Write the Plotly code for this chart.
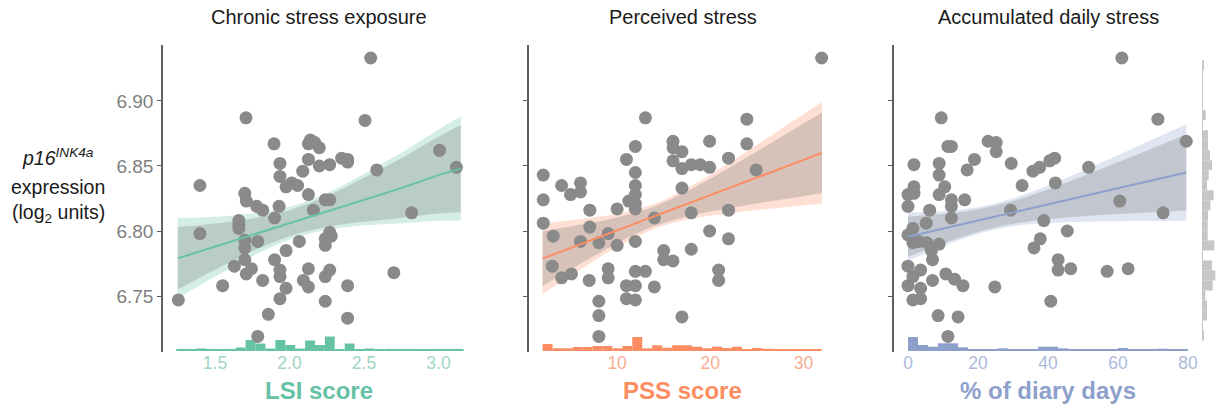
import numpy as np
import plotly.graph_objects as go

W, H = 1220, 410
FONT = "Liberation Sans, Arial, Helvetica, sans-serif"

# ---------------- data ----------------
titles = ["Chronic stress exposure", "Perceived stress", "Accumulated daily stress"]
x_titles = ["LSI score", "PSS score", "% of diary days"]
colors = ["#66c2a5", "#fc8d62", "#8da0cb"]
tick_colors = ["#9fd6c2", "#f8ae93", "#adbadb"]

y_ticks = [6.75, 6.80, 6.85, 6.90]
y_tick_labels = ["6.75", "6.80", "6.85", "6.90"]

lsi_ticks = [1.5, 2.0, 2.5, 3.0]
lsi_tick_labels = ["1.5", "2.0", "2.5", "3.0"]
pss_ticks = [10, 20, 30]
pss_tick_labels = ["10", "20", "30"]
diary_ticks = [0, 20, 40, 60, 80]
diary_tick_labels = ["0", "20", "40", "60", "80"]

# Panel 1: LSI score vs p16 expression
lsi_x = [1.254, 1.399, 1.399, 1.551, 1.63, 1.708, 1.70, 1.71, 1.66, 1.66, 1.66, 1.70, 1.70, 1.70,
         1.71, 1.745, 1.78, 1.82, 1.787, 1.82, 1.858, 1.787, 1.896, 1.936, 1.936, 1.90, 1.93, 1.90,
         1.936, 1.936, 1.936, 1.977, 1.977, 1.977, 2.015, 2.055, 2.066, 2.089, 2.093, 2.127, 2.127,
         2.127, 2.127, 2.127, 2.14, 2.17, 2.20, 2.20, 2.16, 2.24, 2.27, 2.27, 2.24, 2.24, 2.27, 2.28,
         2.24, 2.27, 2.24, 2.35, 2.39, 2.39, 2.39, 2.39, 2.507, 2.545, 2.586, 2.70, 2.82, 3.007, 3.12]
lsi_y = [6.747, 6.835, 6.798, 6.758, 6.773, 6.887, 6.829, 6.823, 6.808, 6.805, 6.802, 6.793, 6.787, 6.778,
         6.767, 6.771, 6.819, 6.816, 6.792, 6.762, 6.736, 6.719, 6.867, 6.852, 6.842, 6.810, 6.819, 6.778,
         6.770, 6.765, 6.748, 6.756, 6.785, 6.834, 6.837, 6.835, 6.792, 6.846, 6.762, 6.867, 6.855,
         6.828, 6.771, 6.757, 6.870, 6.868, 6.864, 6.850, 6.816, 6.824, 6.824, 6.851, 6.794, 6.789, 6.799, 6.796,
         6.765, 6.770, 6.746, 6.856, 6.855, 6.853, 6.758, 6.733, 6.885, 6.933, 6.847, 6.768, 6.814, 6.862, 6.849]

# Panel 2: PSS score
pss_x = [2.07, 2.07, 2.07, 3.14, 3.04, 4.04, 4.04, 5.0, 5.1, 6.07, 6.07, 6.07, 7.07, 7.07, 7.0, 8.04,
         8.04, 8.04, 8.04, 9.04, 9.04, 9.04, 10.0, 10.0, 11.0, 11.0, 11.0, 11.25, 11.96, 11.96, 11.96,
         11.96, 11.96, 11.96, 11.96, 11.96, 11.96, 11.96, 13.04, 13.04, 14.0, 14.0, 15.0, 15.0, 16.0,
         16.0, 16.0, 16.0, 16.96, 16.96, 16.96, 16.96, 17.96, 17.96, 17.96, 18.93, 19.93, 19.93, 19.93,
         20.9, 20.9, 21.96, 21.96, 21.96, 23.93, 23.93, 24.93, 31.96]
pss_y = [6.843, 6.824, 6.806, 6.796, 6.773, 6.835, 6.764, 6.828, 6.767, 6.837, 6.830, 6.792, 6.816, 6.803, 6.762, 6.791,
         6.746, 6.735, 6.719, 6.798, 6.771, 6.764, 6.817, 6.789, 6.855, 6.758, 6.748, 6.823, 6.865, 6.845, 6.835,
         6.828, 6.821, 6.817, 6.792, 6.769, 6.758, 6.747, 6.887, 6.769, 6.810, 6.757, 6.785, 6.778, 6.869,
         6.864, 6.854, 6.777, 6.861, 6.848, 6.833, 6.734, 6.851, 6.814, 6.786, 6.851, 6.869, 6.849, 6.800,
         6.770, 6.762, 6.856, 6.816, 6.794, 6.886, 6.867, 6.847, 6.933]

# Panel 3: % of diary days
diary_x = [0, 0, 0, 0, 0, 1.4, 1.4, 1.4, 1.4, 1.7, 1.7, 1.7, 3.1, 3.6, 3.6, 3.6, 5.2, 5.4, 6.2, 6.7,
           7.0, 7.0, 8.6, 8.9, 8.9, 8.9, 8.9, 9.5, 10.5, 10.8, 11.4, 12.4, 12.4, 12.4, 12.4, 11.4, 13.3,
           14.3, 15.7, 16.2, 16.9, 19.0, 22.9, 25.2, 25.2, 24.8, 29.5, 29.3, 32.6, 35.7, 37.6, 36.0, 37.8,
           38.8, 40.5, 41.9, 40.8, 42.1, 42.9, 42.9, 45.5, 46.5, 51.6, 56.9, 60.5, 61.1, 62.9, 71.4, 72.9, 79.5]
diary_y = [6.819, 6.828, 6.797, 6.773, 6.758, 6.802, 6.791, 6.765, 6.747, 6.851, 6.834, 6.829, 6.792, 6.770, 6.756, 6.748, 6.806, 6.791, 6.816, 6.785,
           6.778, 6.762, 6.735, 6.852, 6.843, 6.828, 6.790, 6.887, 6.834, 6.767, 6.865, 6.865, 6.824, 6.819, 6.810, 6.719, 6.763,
           6.734, 6.758, 6.824, 6.847, 6.855, 6.869, 6.868, 6.861, 6.757, 6.852, 6.816, 6.835, 6.846, 6.849, 6.787, 6.794,
           6.808, 6.854, 6.856, 6.746, 6.837, 6.778, 6.770, 6.800, 6.771, 6.849, 6.769, 6.823, 6.933, 6.771, 6.886, 6.814, 6.869]

# Fitted lines with two confidence bands (half-widths)
lsi_fit_x = [1.25, 1.5, 1.75, 2.0, 2.25, 2.5, 2.75, 3.0, 3.15]
lsi_fit_y = [6.779, 6.788, 6.797, 6.806, 6.815, 6.824, 6.833, 6.843, 6.848]
lsi_outer = [0.031, 0.023, 0.0165, 0.0127, 0.0141, 0.0198, 0.0271, 0.0351, 0.0401]
lsi_inner = [0.024, 0.0178, 0.0126, 0.0100, 0.0119, 0.0169, 0.0229, 0.0295, 0.0335]

pss_fit_x = [2, 6, 10, 14, 18, 22, 26, 30, 32]
pss_fit_y = [6.7788, 6.7897, 6.8005, 6.8113, 6.8222, 6.8330, 6.8438, 6.8547, 6.8601]
pss_outer = [0.0271, 0.0194, 0.0128, 0.0095, 0.0126, 0.0193, 0.0270, 0.0350, 0.0391]
pss_inner = [0.0211, 0.0151, 0.0099, 0.0075, 0.0102, 0.0155, 0.0215, 0.0279, 0.0311]

diary_fit_x = [0, 10, 20, 30, 40, 50, 60, 70, 79.5]
diary_fit_y = [6.7956, 6.8018, 6.8080, 6.8143, 6.8205, 6.8267, 6.8329, 6.8391, 6.8450]
diary_outer = [0.0185, 0.0135, 0.0103, 0.0107, 0.0144, 0.0196, 0.0253, 0.0314, 0.0371]
diary_inner = [0.0154, 0.0114, 0.0088, 0.0088, 0.0114, 0.0154, 0.0199, 0.0246, 0.0292]

# Marginal histograms (relative heights)
lsi_hist_start, lsi_hist_bin = 1.24, 0.0665
lsi_hist = [2, 2, 2.5, 2, 2, 2, 3.5, 11, 7.5, 2.5, 11, 6, 2.5, 10.5, 6, 14.5, 2, 7.5, 2, 2.5, 2, 2,
            2, 2, 2, 2, 2, 2, 2]
pss_hist_start, pss_hist_bin = 2.0, 1.07
pss_hist = [7, 2.7, 2.7, 4, 4, 5, 5, 2.7, 5, 14, 2.7, 5.7, 3.3, 5.7, 5.7, 4.3, 2.7, 4.3, 3, 4.3,
            2, 3, 2.2, 1.5, 1.5, 1.5, 1.5, 2]
diary_hist_start, diary_hist_bin = 0.0, 2.857
diary_hist = [14, 6, 4.3, 7.7, 7.7, 3.7, 2, 1.5, 1.8, 2.7, 2, 1.5, 1.5, 4.3, 4.3, 2.7, 2, 1.5, 2,
              1.5, 2, 3, 1.5, 1.5, 1.5, 2.3, 2, 1.5]
p16_hist_start, p16_hist_bin = 6.7158, 0.0077
p16_hist = [1.7, 0.7, 5, 5, 3.3, 10.7, 13.3, 10, 0.7, 12.3, 5.7, 5.7, 6, 8.3, 11.7, 5, 6.7, 10, 8,
            6, 6, 0.7, 3.7, 0.7, 0.7, 0.7, 0.7, 1.7]

# ---------------- layout geometry ----------------
PANEL_PX = [(163, 475), (529, 836), (894, 1202)]
MARG_PX = (1202, 1218)
TOP_PX, BOT_PX = 45, 352
X_RANGES = [(1.151, 3.245), (0.54, 33.5), (-4.0, 84.0)]
Y_RANGE = (6.707, 6.943)
ydom = [1 - BOT_PX / H, 1 - TOP_PX / H]
px_per_unit_y = (BOT_PX - TOP_PX) / (Y_RANGE[1] - Y_RANGE[0])
hist_unit = 1.0 / px_per_unit_y
hist_base = Y_RANGE[0] + 1.0 * hist_unit

panels = [
    dict(x=lsi_x, y=lsi_y, fx=lsi_fit_x, fy=lsi_fit_y, fo=lsi_outer, fi=lsi_inner,
         hs=lsi_hist_start, hb=lsi_hist_bin, h=lsi_hist,
         ticks=lsi_ticks, tlabels=lsi_tick_labels),
    dict(x=pss_x, y=pss_y, fx=pss_fit_x, fy=pss_fit_y, fo=pss_outer, fi=pss_inner,
         hs=pss_hist_start, hb=pss_hist_bin, h=pss_hist,
         ticks=pss_ticks, tlabels=pss_tick_labels),
    dict(x=diary_x, y=diary_y, fx=diary_fit_x, fy=diary_fit_y, fo=diary_outer, fi=diary_inner,
         hs=diary_hist_start, hb=diary_hist_bin, h=diary_hist,
         ticks=diary_ticks, tlabels=diary_tick_labels),
]


def rgba(hex_color, a):
    h = hex_color.lstrip("#")
    r, g, b = int(h[0:2], 16), int(h[2:4], 16), int(h[4:6], 16)
    return f"rgba({r},{g},{b},{a})"


fig = go.Figure()
for i, p in enumerate(panels):
    xa = "x" if i == 0 else f"x{i+1}"
    ya = "y" if i == 0 else f"y{i+1}"
    col = colors[i]
    fx = np.array(p["fx"]); fy = np.array(p["fy"])
    fo = np.array(p["fo"]); fi = np.array(p["fi"])
    # histogram along x at the bottom
    hh = np.array(p["h"])
    centers = p["hs"] + p["hb"] * (np.arange(len(hh)) + 0.5)
    fig.add_trace(go.Bar(x=centers, y=hh * hist_unit, base=hist_base, width=p["hb"],
                         marker=dict(color=col, line=dict(width=0)),
                         xaxis=xa, yaxis=ya, showlegend=False, hoverinfo="skip"))
    # outer band
    fig.add_trace(go.Scatter(x=fx, y=fy - fo, mode="lines", line=dict(width=0, shape="spline"),
                             xaxis=xa, yaxis=ya, showlegend=False, hoverinfo="skip"))
    fig.add_trace(go.Scatter(x=fx, y=fy + fo, mode="lines", line=dict(width=0, shape="spline"),
                             fill="tonexty", fillcolor=rgba(col, 0.28),
                             xaxis=xa, yaxis=ya, showlegend=False, hoverinfo="skip"))
    # inner band
    fig.add_trace(go.Scatter(x=fx, y=fy - fi, mode="lines", line=dict(width=0, shape="spline"),
                             xaxis=xa, yaxis=ya, showlegend=False, hoverinfo="skip"))
    fig.add_trace(go.Scatter(x=fx, y=fy + fi, mode="lines", line=dict(width=0, shape="spline"),
                             fill="tonexty", fillcolor="rgba(115,120,118,0.28)",
                             xaxis=xa, yaxis=ya, showlegend=False, hoverinfo="skip"))
    # points
    fig.add_trace(go.Scatter(x=p["x"], y=p["y"], mode="markers",
                             marker=dict(size=13, color="#8a8a8a", line=dict(width=0)),
                             xaxis=xa, yaxis=ya, showlegend=False))
    # fitted line
    fig.add_trace(go.Scatter(x=fx, y=fy, mode="lines", line=dict(color=col, width=2),
                             xaxis=xa, yaxis=ya, showlegend=False, hoverinfo="skip"))

# marginal histogram of p16 on the right
ph = np.array(p16_hist)
pcent = p16_hist_start + p16_hist_bin * (np.arange(len(ph)) + 0.5)
fig.add_trace(go.Bar(y=pcent, x=ph, base=0, width=p16_hist_bin, orientation="h",
                     marker=dict(color="#c6c6c6", line=dict(width=0)),
                     xaxis="x4", yaxis="y3", showlegend=False, hoverinfo="skip"))

layout = dict(
    width=W, height=H,
    margin=dict(l=0, r=0, t=0, b=0),
    paper_bgcolor="white", plot_bgcolor="rgba(0,0,0,0)",
    barmode="overlay",
    font=dict(family=FONT, color="#222222"),
    showlegend=False,
)

for i, p in enumerate(panels):
    xkey = "xaxis" if i == 0 else f"xaxis{i+1}"
    ykey = "yaxis" if i == 0 else f"yaxis{i+1}"
    yref = "y" if i == 0 else f"y{i+1}"
    xref = "x" if i == 0 else f"x{i+1}"
    d0, d1 = PANEL_PX[i]
    layout[xkey] = dict(domain=[d0 / W, d1 / W], range=list(X_RANGES[i]), anchor=yref,
                        showgrid=False, zeroline=False, showline=False, ticks="",
                        tickvals=p["ticks"], ticktext=p["tlabels"],
                        tickfont=dict(size=17.5, color=tick_colors[i], family=FONT),
                        ticklabelstandoff=-2)
    layout[ykey] = dict(domain=ydom, range=list(Y_RANGE), anchor=xref,
                        showgrid=False, zeroline=False, showline=True,
                        linecolor="#5e5e5e", linewidth=1.5,
                        ticks="outside", ticklen=4, tickwidth=1.2, tickcolor="#5e5e5e",
                        tickvals=y_ticks, ticktext=y_tick_labels,
                        showticklabels=(i == 0),
                        tickfont=dict(size=19, color="#808080", family=FONT),
                        ticklabelstandoff=0)

layout["xaxis4"] = dict(domain=[MARG_PX[0] / W, MARG_PX[1] / W], range=[0, MARG_PX[1] - MARG_PX[0]],
                        anchor="y3", showgrid=False, zeroline=False, showline=False,
                        showticklabels=False, ticks="")

annotations = []
for i in range(3):
    cx = (PANEL_PX[i][0] + PANEL_PX[i][1]) / 2 / W
    annotations.append(dict(text=titles[i], x=cx, y=1 - 17 / H, xref="paper", yref="paper",
                            xanchor="center", yanchor="middle", showarrow=False,
                            font=dict(size=20, color="#1a1a1a", family=FONT)))
    annotations.append(dict(text=f"<b>{x_titles[i]}</b>", x=cx, y=1 - 390 / H,
                            xref="paper", yref="paper", xanchor="center", yanchor="middle",
                            showarrow=False, font=dict(size=24, color=colors[i], family=FONT)))

ylab_lines = ["<i>p16<sup>INK4a</sup></i>", "expression", "(log<sub>2</sub> units)"]
ylab_px = [157, 187, 213]
for t, yy in zip(ylab_lines, ylab_px):
    annotations.append(dict(text=t, x=58 / W, y=1 - yy / H, xref="paper", yref="paper",
                            xanchor="center", yanchor="middle", showarrow=False,
                            font=dict(size=19.5, color="#1a1a1a", family=FONT)))
layout["annotations"] = annotations

fig.update_layout(**layout)
fig.write_html(
    "out.html",
    config={"displayModeBar": False},
    post_script="document.body.style.margin='0';document.body.style.overflow='hidden';",
)
